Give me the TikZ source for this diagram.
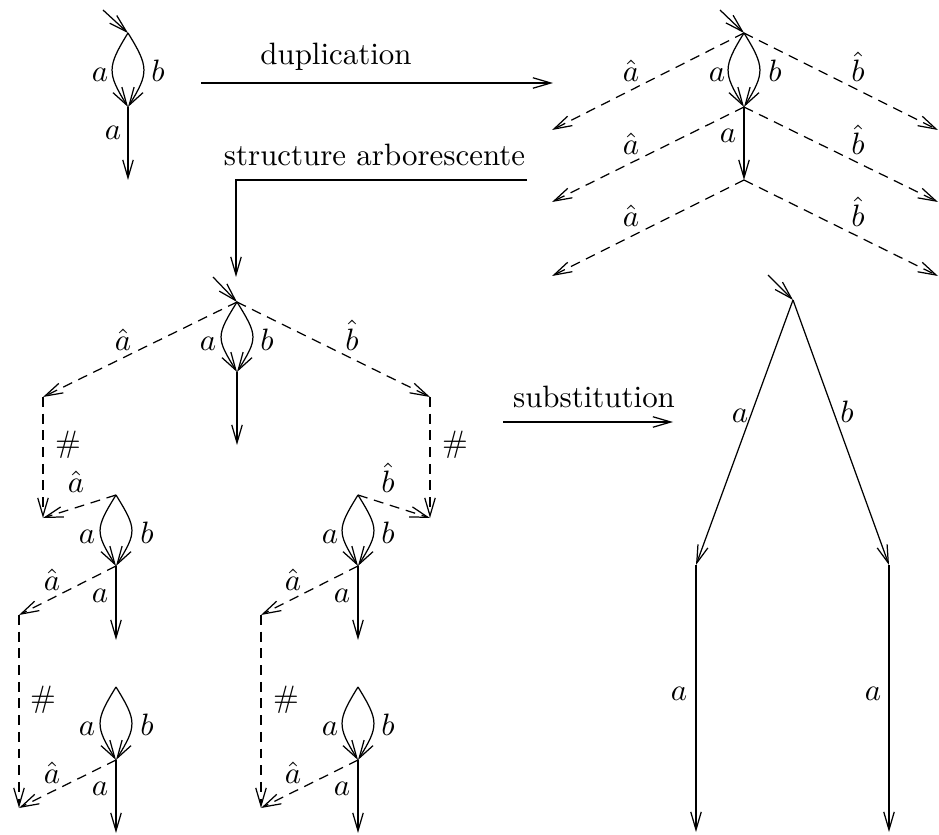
\documentclass[tikz,border=0pt]{standalone}
\usetikzlibrary{arrows.meta}
\begin{document}
\begin{tikzpicture}[x=0.3236pt,y=-0.3236pt,
  line width=0.4pt,
  >={Straight Barb[length=5.8pt,width=3.4pt]},
  dedge/.style={->,dash pattern=on 3.2pt off 2.2pt},
  lbl/.style={inner sep=0pt,anchor=base},
  hsh/.style={inner sep=0pt,anchor=center},
  lensleft/.style={to path={.. controls +(-21,34) and +(-21,-34) .. (\tikztotarget)}},
  lensright/.style={to path={.. controls +(21,34) and +(21,-34) .. (\tikztotarget)}}]
\useasboundingbox (0,0) rectangle (939,835);

% ---------- top-left graph ----------
\coordinate (tl0) at (103,10);
\coordinate (tl1) at (128,33);
\coordinate (tl2) at (128,107);
\coordinate (tl3) at (128,180);
\draw[->] (tl0) -- (tl1);
\draw[->] (tl1) to[lensleft] (tl2);
\draw[->] (tl1) to[lensright] (tl2);
\draw[->] (tl2) -- (tl3);
\node[lbl] (tla) at (100,82) {$a$};
\node[lbl] (tlb) at (158,82) {$b$};
\node[lbl] (tlc) at (113,140) {$a$};

% ---------- duplication ----------
\coordinate (d1) at (201,83);
\coordinate (d2) at (553,83);
\draw[->] (d1) -- (d2);
\node[lbl] (dup) at (336,65) {duplication};

% ---------- top-right graph ----------
\coordinate (tr0) at (720,10);
\coordinate (tr1) at (744,33);
\coordinate (tr2) at (744,107);
\coordinate (tr3) at (744,180);
\coordinate (trL1) at (552,130);
\coordinate (trR1) at (938,130);
\coordinate (trL2) at (552,202);
\coordinate (trR2) at (938,202);
\coordinate (trL3) at (552,276);
\coordinate (trR3) at (938,276);
\draw[->] (tr0) -- (tr1);
\draw[->] (tr1) to[lensleft] (tr2);
\draw[->] (tr1) to[lensright] (tr2);
\draw[->] (tr2) -- (tr3);
\draw[dedge] (tr1) -- (trL1);
\draw[dedge] (tr1) -- (trR1);
\draw[dedge] (tr2) -- (trL2);
\draw[dedge] (tr2) -- (trR2);
\draw[dedge] (tr3) -- (trL3);
\draw[dedge] (tr3) -- (trR3);
\node[lbl] (tra1) at (631,82) {$\hat a$};
\node[lbl] (trb1) at (858,82) {$\hat b$};
\node[lbl] (tra) at (717,82) {$a$};
\node[lbl] (trb) at (775,82) {$b$};
\node[lbl] (tra2) at (631,155) {$\hat a$};
\node[lbl] (trb2) at (858,155) {$\hat b$};
\node[lbl] (trc) at (728,143) {$a$};
\node[lbl] (tra3) at (631,227) {$\hat a$};
\node[lbl] (trb3) at (858,227) {$\hat b$};

% ---------- structure arborescente ----------
\coordinate (s1) at (527,180);
\coordinate (s2) at (236,180);
\coordinate (s3) at (236,277);
\draw[->] (s1) -- (s2) -- (s3);
\node[lbl] (arb) at (374.5,166) {structure arborescente};

% ---------- middle tree ----------
\coordinate (m0) at (213,277);
\coordinate (m1) at (237,302);
\coordinate (m2) at (237,372);
\coordinate (m3) at (237,445);
\coordinate (ml) at (43,397);
\coordinate (mr) at (430,397);
\coordinate (mlb) at (43,518);
\coordinate (mrb) at (430,518);
\draw[->] (m0) -- (m1);
\draw[->] (m1) to[lensleft] (m2);
\draw[->] (m1) to[lensright] (m2);
\draw[->] (m2) -- (m3);
\draw[dedge] (m1) -- (ml);
\draw[dedge] (m1) -- (mr);
\draw[dedge] (ml) -- (mlb);
\draw[dedge] (mr) -- (mrb);
\node[lbl] (mha) at (123,350) {$\hat a$};
\node[lbl] (mhb) at (352,350) {$\hat b$};
\node[lbl] (ma) at (208,350) {$a$};
\node[lbl] (mb) at (267,350) {$b$};
\node[hsh] (mhl) at (68,445) {$\#$};
\node[hsh] (mhr) at (455,445) {$\#$};

% ---------- lower-left subtree ----------
\coordinate (ll1) at (116,495);
\coordinate (ll2) at (116,566);
\coordinate (ll3) at (116,640);
\coordinate (lld) at (19,615);
\coordinate (lb1) at (116,687);
\coordinate (lb2) at (116,760);
\coordinate (lb3) at (116,833);
\coordinate (lle) at (19,808);
\draw[->] (ll1) to[lensleft] (ll2);
\draw[->] (ll1) to[lensright] (ll2);
\draw[->] (ll2) -- (ll3);
\draw[dedge] (ll1) -- (mlb);
\draw[dedge] (ll2) -- (lld);
\draw[dedge] (lld) -- (lle);
\draw[->] (lb1) to[lensleft] (lb2);
\draw[->] (lb1) to[lensright] (lb2);
\draw[->] (lb2) -- (lb3);
\draw[dedge] (lb2) -- (lle);
\node[lbl] (llha) at (76,493) {$\hat a$};
\node[lbl] (lla) at (87,543) {$a$};
\node[lbl] (llb) at (147,543) {$b$};
\node[lbl] (llhb) at (52,590) {$\hat a$};
\node[lbl] (llc) at (100,602) {$a$};
\node[hsh] (llh) at (43,700) {$\#$};
\node[lbl] (lba) at (87,735) {$a$};
\node[lbl] (lbb) at (147,735) {$b$};
\node[lbl] (lbha) at (52,783) {$\hat a$};
\node[lbl] (lbc) at (100,795) {$a$};

% ---------- lower-right subtree ----------
\coordinate (rr1) at (358,495);
\coordinate (rr2) at (358,566);
\coordinate (rr3) at (358,640);
\coordinate (rrd) at (261,615);
\coordinate (rb1) at (358,687);
\coordinate (rb2) at (358,760);
\coordinate (rb3) at (358,833);
\coordinate (rre) at (261,808);
\draw[->] (rr1) to[lensleft] (rr2);
\draw[->] (rr1) to[lensright] (rr2);
\draw[->] (rr2) -- (rr3);
\draw[dedge] (rr1) -- (mrb);
\draw[dedge] (rr2) -- (rrd);
\draw[dedge] (rrd) -- (rre);
\draw[->] (rb1) to[lensleft] (rb2);
\draw[->] (rb1) to[lensright] (rb2);
\draw[->] (rb2) -- (rb3);
\draw[dedge] (rb2) -- (rre);
\node[lbl] (rrhb) at (388,493) {$\hat b$};
\node[lbl] (rra) at (330,543) {$a$};
\node[lbl] (rrb) at (388,543) {$b$};
\node[lbl] (rrha) at (293,590) {$\hat a$};
\node[lbl] (rrc) at (342,602) {$a$};
\node[hsh] (rrh) at (286,700) {$\#$};
\node[lbl] (rba) at (330,735) {$a$};
\node[lbl] (rbb) at (388,735) {$b$};
\node[lbl] (rbha) at (293,783) {$\hat a$};
\node[lbl] (rbc) at (342,795) {$a$};

% ---------- substitution ----------
\coordinate (su1) at (503,422);
\coordinate (su2) at (673,422);
\draw[->] (su1) -- (su2);
\node[lbl] (sub) at (594,407) {substitution};

% ---------- right tree ----------
\coordinate (rt0) at (768,275);
\coordinate (rt1) at (793,300);
\coordinate (rt2) at (696,565);
\coordinate (rt3) at (889,565);
\coordinate (rt4) at (696,832);
\coordinate (rt5) at (889,832);
\draw[->] (rt0) -- (rt1);
\draw[->] (rt1) -- (rt2);
\draw[->] (rt1) -- (rt3);
\draw[->] (rt2) -- (rt4);
\draw[->] (rt3) -- (rt5);
\node[lbl] (rta) at (740,422) {$a$};
\node[lbl] (rtb) at (847,422) {$b$};
\node[lbl] (rtc) at (679,700) {$a$};
\node[lbl] (rtd) at (873,700) {$a$};
\end{tikzpicture}
\end{document}
